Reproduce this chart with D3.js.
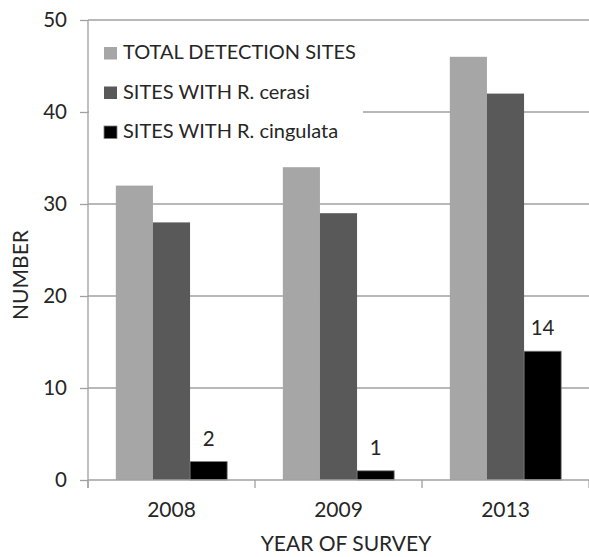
<!DOCTYPE html>
<html><head><meta charset="utf-8">
<script src="https://cdn.jsdelivr.net/npm/d3@7"></script>
<style>body{margin:0;background:#fff}svg{display:block}text{font-family:Lato,"Open Sans",sans-serif;fill:#262626}</style>
</head><body><svg id="c" width="589" height="557"></svg>
<script>
const years = ["2008", "2009", "2013"];
const seriesNames = ["TOTAL DETECTION SITES", "SITES WITH R. cerasi", "SITES WITH R. cingulata"];
const totalSites = [32, 34, 46];
const cerasiSites = [28, 29, 42];
const cingulataSites = [2, 1, 14];
const yTicks = [0, 10, 20, 30, 40, 50];
const colors = ["#a6a6a6", "#595959", "#000000"];

const series = [totalSites, cerasiSites, cingulataSites];
const svg = d3.select("#c");
const m = {l: 88, r: 589, t: 20, b: 480};
const x = d3.scaleBand().domain(years).range([m.l, m.r]).paddingInner(0).paddingOuter(0);
const xs = d3.scaleBand().domain(d3.range(3)).range([0, x.bandwidth()]).paddingInner(0).paddingOuter(0.75);
const y = d3.scaleLinear().domain([0, 50]).range([m.b, m.t]);
const grid = "#a0a0a0";

// gridlines
svg.append("g").selectAll("line").data(yTicks.filter(d => d > 0)).join("line")
  .attr("x1", m.l).attr("x2", m.r).attr("y1", d => y(d)).attr("y2", d => y(d))
  .attr("stroke", grid).attr("stroke-width", 1.3);

// y axis
const ya = svg.append("g").attr("transform", `translate(${m.l},0)`)
  .call(d3.axisLeft(y).tickValues(yTicks).tickSize(8).tickPadding(13).tickSizeOuter(0));
ya.select(".domain").remove();
ya.selectAll(".tick line").attr("stroke", grid).attr("stroke-width", 1.3);
ya.selectAll(".tick text").attr("font-size", 20.5).style("font-family", "Lato").attr("fill", "#262626");
svg.append("line").attr("x1", m.l).attr("x2", m.l).attr("y1", m.t).attr("y2", m.b + 8)
  .attr("stroke", grid).attr("stroke-width", 1.3);

// bars
const g = svg.append("g");
years.forEach((yr, i) => {
  series.forEach((s, j) => {
    g.append("rect")
      .attr("x", x(yr) + xs(j)).attr("width", xs.bandwidth())
      .attr("y", y(s[i])).attr("height", y(0) - y(s[i]))
      .attr("fill", colors[j]).attr("stroke", j === 2 ? "#7f7f7f" : "none").attr("stroke-width", 0.8);
  });
  const v = cingulataSites[i];
  svg.append("text").attr("x", x(yr) + xs(2) + xs.bandwidth() / 2).attr("y", y(v) - 16)
    .attr("text-anchor", "middle").attr("font-size", 20.5).text(v);
});

// x axis
svg.append("line").attr("x1", m.l).attr("x2", m.r).attr("y1", m.b).attr("y2", m.b)
  .attr("stroke", grid).attr("stroke-width", 1.3);
const xTickPos = years.map(d => x(d)).concat([m.r]);
svg.append("g").selectAll("line").data(xTickPos).join("line")
  .attr("x1", d => d).attr("x2", d => d).attr("y1", m.b).attr("y2", m.b + 8)
  .attr("stroke", grid).attr("stroke-width", 1.3);
svg.append("g").selectAll("text").data(years).join("text")
  .attr("x", d => x(d) + x.bandwidth() / 2).attr("y", 517)
  .attr("text-anchor", "middle").attr("font-size", 21).text(d => d);

// titles
svg.append("text").attr("x", 346).attr("y", 551).attr("text-anchor", "middle").attr("font-size", 21).text("YEAR OF SURVEY");
svg.append("text").attr("transform", "translate(28,275) rotate(-90)").attr("text-anchor", "middle").attr("font-size", 21).text("NUMBER");

// legend
const lg = svg.append("g");
lg.append("rect").attr("x", 89).attr("y", 30).attr("width", 274).attr("height", 125).attr("fill", "#fff");
seriesNames.forEach((n, j) => {
  const base = 59 + j * 39.5;
  lg.append("rect").attr("x", 104).attr("y", base - 12).attr("width", 13).attr("height", 12.5).attr("fill", colors[j])
    .attr("stroke", j === 2 ? "#7f7f7f" : "none").attr("stroke-width", 0.8);
  lg.append("text").attr("x", 123).attr("y", base).attr("font-size", 20).text(n);
});
</script></body></html>
